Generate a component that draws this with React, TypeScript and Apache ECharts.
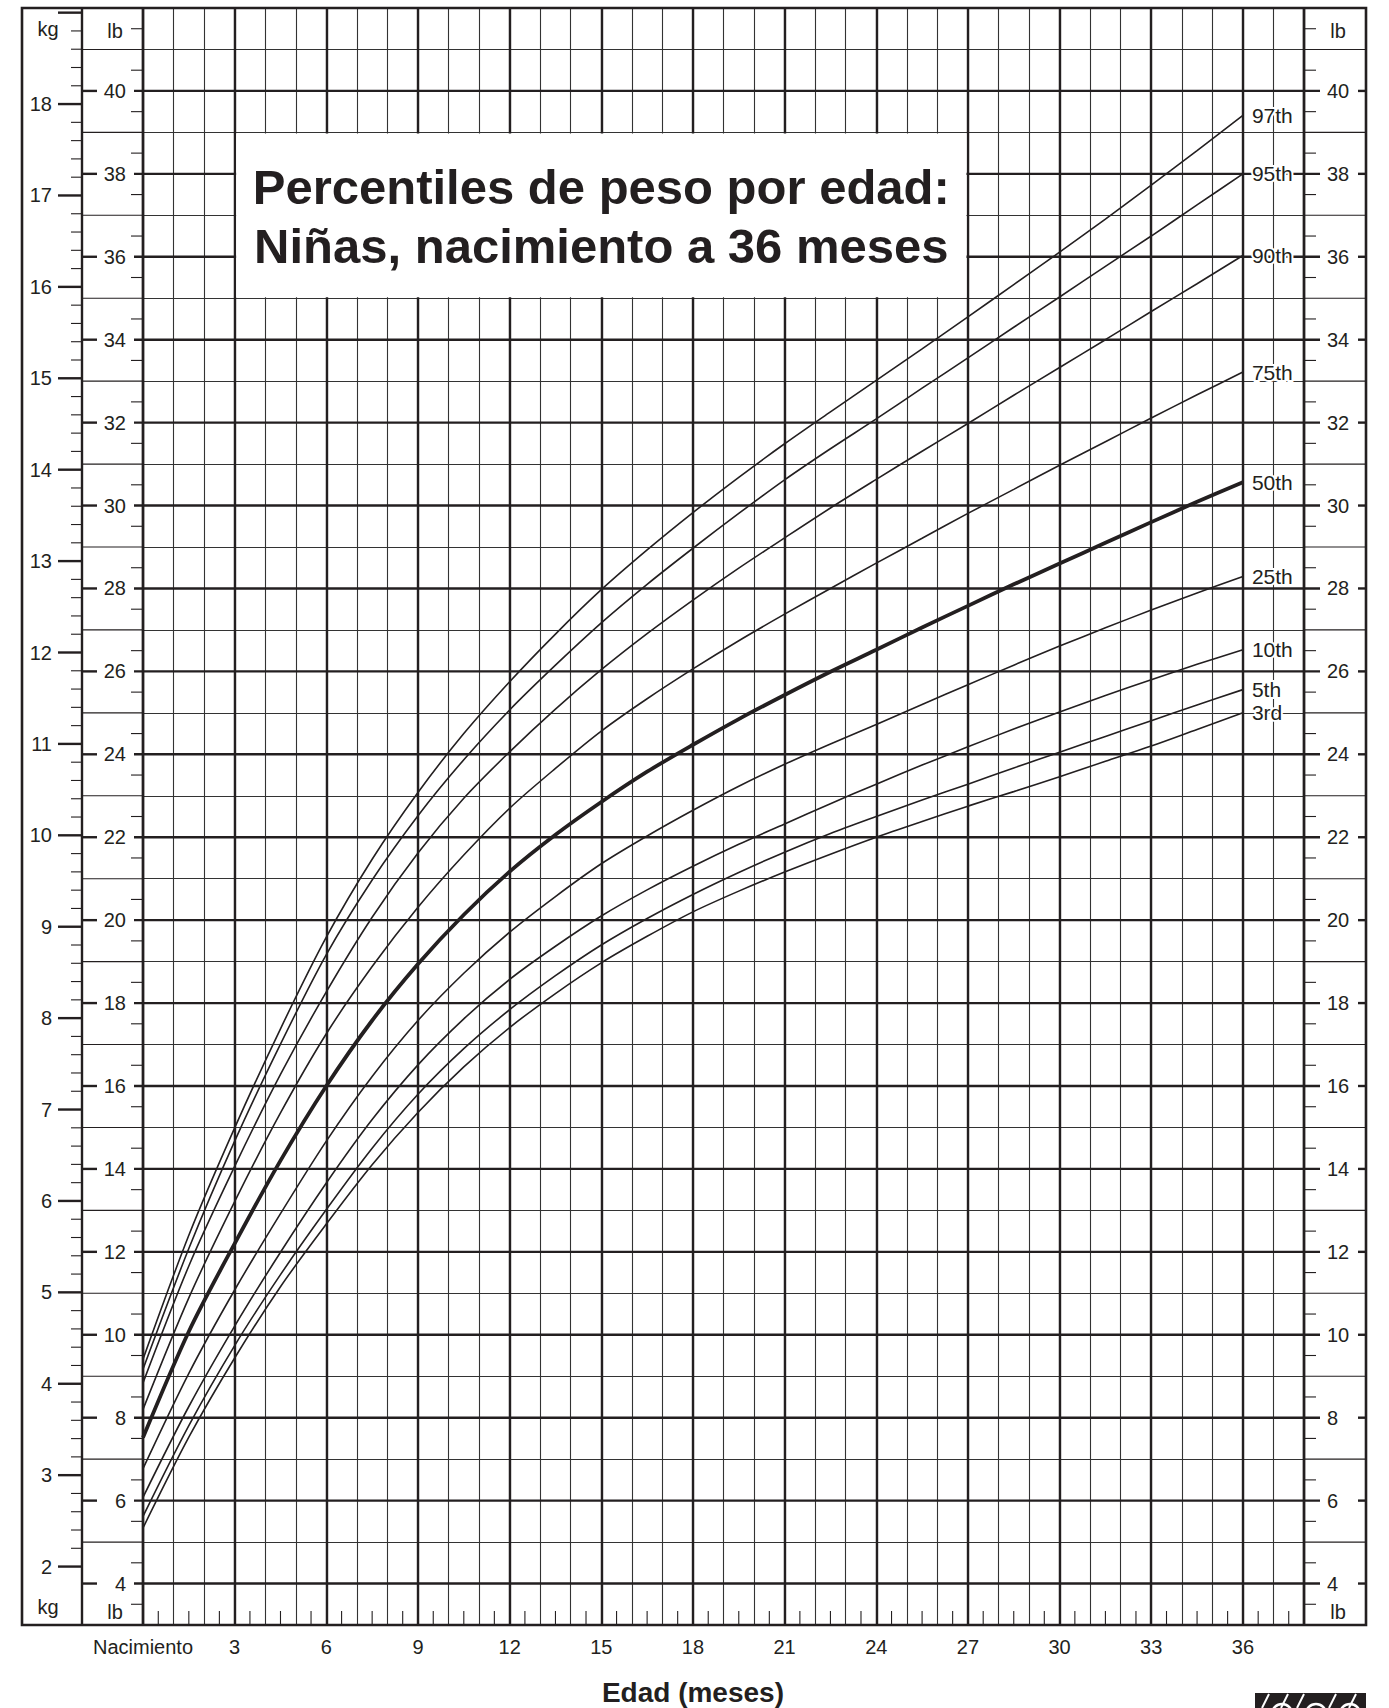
import React, { useEffect, useRef } from "react";
import * as echarts from "echarts";

// ---------- data (weights in pounds; ages in months) ----------
const LB_PER_KG = 2.20462;
const LB_MIN = 3;
const LB_MAX = 42;
const MONTH_MIN = 0;
const MONTH_MAX = 38;

const MONTHS = [0, 1.5, 3, 4.5, 6, 7.5, 9, 10.5, 12, 13.5, 15, 16.5, 18, 19.5, 21, 22.5, 24, 25.5, 27, 28.5, 30, 31.5, 33, 34.5, 36];

const P97 = [9.41, 12.4, 14.99, 17.38, 19.59, 21.47, 23.08, 24.5, 25.75, 26.9, 27.97, 28.93, 29.83, 30.68, 31.49, 32.26, 33.02, 33.78, 34.55, 35.33, 36.11, 36.91, 37.73, 38.56, 39.41];
const P95 = [9.17, 12.08, 14.67, 17.01, 19.17, 20.97, 22.52, 23.87, 25.07, 26.15, 27.17, 28.1, 28.97, 29.81, 30.62, 31.37, 32.09, 32.83, 33.56, 34.3, 35.03, 35.77, 36.5, 37.25, 38.0];
const P90 = [8.84, 11.66, 14.06, 16.28, 18.27, 20.07, 21.62, 22.94, 24.06, 25.09, 26.04, 26.91, 27.72, 28.49, 29.22, 29.94, 30.63, 31.31, 31.98, 32.66, 33.33, 34.0, 34.68, 35.35, 36.03];
const P75 = [8.2, 10.89, 13.21, 15.35, 17.26, 18.88, 20.31, 21.57, 22.7, 23.66, 24.56, 25.34, 26.06, 26.74, 27.38, 28.0, 28.61, 29.21, 29.81, 30.39, 30.97, 31.54, 32.11, 32.67, 33.22];
const P50 = [7.52, 10.08, 12.2, 14.2, 16.0, 17.58, 18.94, 20.13, 21.17, 22.06, 22.85, 23.58, 24.23, 24.85, 25.43, 25.99, 26.52, 27.06, 27.58, 28.1, 28.6, 29.1, 29.6, 30.09, 30.56];
const P25 = [6.77, 9.07, 11.08, 12.92, 14.67, 16.23, 17.58, 18.72, 19.71, 20.57, 21.36, 22.03, 22.65, 23.23, 23.76, 24.25, 24.72, 25.2, 25.68, 26.15, 26.61, 27.05, 27.48, 27.89, 28.29];
const P10 = [6.08, 8.27, 10.21, 11.99, 13.66, 15.19, 16.51, 17.62, 18.57, 19.37, 20.1, 20.73, 21.3, 21.83, 22.32, 22.81, 23.28, 23.74, 24.18, 24.61, 25.02, 25.42, 25.8, 26.17, 26.52];
const P5 = [5.62, 7.81, 9.74, 11.45, 13.02, 14.5, 15.8, 16.9, 17.84, 18.66, 19.4, 20.04, 20.62, 21.15, 21.64, 22.09, 22.5, 22.9, 23.28, 23.67, 24.05, 24.43, 24.81, 25.19, 25.56];
const P3 = [5.34, 7.53, 9.44, 11.16, 12.67, 14.1, 15.36, 16.46, 17.41, 18.23, 18.97, 19.61, 20.2, 20.7, 21.16, 21.59, 22.0, 22.38, 22.75, 23.1, 23.46, 23.83, 24.2, 24.6, 25.0];

const PERCENTILE_NAMES = ["3rd", "5th", "10th", "25th", "50th", "75th", "90th", "95th", "97th"];
const PERCENTILE_VALUES = [P3, P5, P10, P25, P50, P75, P90, P95, P97];

const X_LABEL_MONTHS = [0, 3, 6, 9, 12, 15, 18, 21, 24, 27, 30, 33, 36];
const LB_LABELS = [4, 6, 8, 10, 12, 14, 16, 18, 20, 22, 24, 26, 28, 30, 32, 34, 36, 38, 40];
const KG_LABELS = [2, 3, 4, 5, 6, 7, 8, 9, 10, 11, 12, 13, 14, 15, 16, 17, 18];
const KG_MAJOR_TICKS = [2, 3, 4, 5, 6, 7, 8, 9, 10, 11, 12, 13, 14, 15, 16, 17, 18, 19];

const TITLE_LINES = ["Percentiles de peso por edad:", "Niñas, nacimiento a 36 meses"];
const X_NAME = "Edad (meses)";

// ---------- styling ----------
const FONT = "'Liberation Sans', Arial, Helvetica, sans-serif";
const INK = "#231f20";
const THIN = 1.1;
const THICK = 2.4;

export default function App() {
  const ref = useRef<HTMLDivElement>(null);

  useEffect(() => {
    const chart = echarts.init(ref.current as HTMLDivElement, null, { renderer: "svg" });

    const kgMin = LB_MIN / LB_PER_KG;
    const kgMax = LB_MAX / LB_PER_KG;

    chart.setOption({
      animation: false,
      backgroundColor: "#ffffff",
      grid: { left: 143, top: 8, width: 1161, height: 1617, outerBoundsMode: "none", containLabel: false },
      xAxis: [
        {
          type: "value",
          min: MONTH_MIN,
          max: MONTH_MAX,
          interval: 1,
          position: "bottom",
          axisLine: { show: false },
          axisTick: { show: false },
          splitLine: { show: true, lineStyle: { color: "#333333", width: THIN } },
          axisLabel: {
            show: true,
            margin: 12,
            fontSize: 20,
            fontFamily: FONT,
            color: INK,
            formatter: (v: number) =>
              X_LABEL_MONTHS.indexOf(v) >= 0 ? (v === 0 ? "Nacimiento" : String(v)) : "",
          },
        },
        {
          type: "value",
          min: MONTH_MIN,
          max: MONTH_MAX,
          interval: 3,
          position: "top",
          axisLine: { show: false },
          axisTick: { show: false },
          axisLabel: { show: false },
          splitLine: { show: true, lineStyle: { color: INK, width: THICK } },
        },
      ],
      yAxis: [
        {
          type: "value",
          min: LB_MIN,
          max: LB_MAX,
          interval: 1,
          position: "left",
          axisLine: { show: false },
          axisTick: { show: false },
          splitLine: { show: true, lineStyle: { color: "#333333", width: THIN } },
          axisLabel: {
            margin: 17,
            fontSize: 20,
            fontFamily: FONT,
            color: INK,
            formatter: (v: number) => (LB_LABELS.indexOf(v) >= 0 ? String(v) : ""),
          },
        },
        {
          type: "value",
          min: LB_MIN,
          max: LB_MAX,
          interval: 1,
          position: "right",
          axisLine: { show: false },
          axisTick: { show: false },
          splitLine: { show: false },
          axisLabel: {
            margin: 23,
            fontSize: 20,
            fontFamily: FONT,
            color: INK,
            formatter: (v: number) => (LB_LABELS.indexOf(v) >= 0 ? String(v) : ""),
          },
        },
        {
          type: "value",
          min: kgMin,
          max: kgMax,
          show: false,
          position: "left",
        },
      ],
      series: PERCENTILE_NAMES.map((name, i) => ({
        type: "line",
        name,
        xAxisIndex: 0,
        yAxisIndex: 0,
        data: MONTHS.map((m, j) => [m, PERCENTILE_VALUES[i][j]]),
        smooth: 0.3,
        symbol: "none",
        showSymbol: false,
        silent: true,
        z: 3,
        lineStyle: { color: INK, width: name === "50th" ? 3.8 : 1.6 },
        endLabel: {
          show: true,
          formatter: name,
          distance: 9,
          fontSize: 21,
          fontFamily: FONT,
          color: INK,
          textBorderColor: "#ffffff",
          textBorderWidth: 4,
        },
        emphasis: { disabled: true },
      })),
    });

    const xp = (m: number) => chart.convertToPixel({ xAxisIndex: 0 }, m) as number;
    const yp = (lb: number) => chart.convertToPixel({ yAxisIndex: 0 }, lb) as number;
    const ykg = (kg: number) => chart.convertToPixel({ yAxisIndex: 2 }, kg) as number;

    const gx0 = xp(MONTH_MIN);
    const gx1 = xp(MONTH_MAX);
    const gyTop = yp(LB_MAX);
    const gyBot = yp(LB_MIN);
    const outerLeft = 22;
    const kgRight = 82;
    const outerRight = 1366;

    const els: any[] = [];
    const line = (x1: number, y1: number, x2: number, y2: number, w: number, z = 1) =>
      els.push({
        type: "line",
        silent: true,
        z,
        shape: { x1, y1, x2, y2 },
        style: { stroke: INK, lineWidth: w },
      });
    const text = (
      t: string,
      x: number,
      y: number,
      size: number,
      align: string,
      weight: string = "normal",
      z = 6
    ) =>
      els.push({
        type: "text",
        silent: true,
        z,
        x,
        y,
        style: {
          text: t,
          fill: INK,
          fontSize: size,
          fontFamily: FONT,
          fontWeight: weight,
          align,
          verticalAlign: "middle",
        },
      });

    // thick horizontal lines at even pounds (plus inner ticks in both lb columns)
    for (let lb = 4; lb <= 40; lb += 2) {
      line(gx0 - 9, yp(lb), gx1 + 16, yp(lb), THICK, 1);
      line(kgRight, yp(lb), kgRight + 15, yp(lb), THICK, 1);
      line(outerRight - 8, yp(lb), outerRight, yp(lb), THICK, 1);
    }
    // odd pounds: lines across the lb columns
    for (let lb = 5; lb <= 41; lb += 2) {
      line(kgRight, yp(lb), gx0, yp(lb), THIN, 1);
      line(gx1, yp(lb), outerRight, yp(lb), THIN, 1);
    }
    // half pound ticks
    for (let h = 7; h <= 83; h += 2) {
      const lb = h / 2;
      line(gx0 - 12, yp(lb), gx0, yp(lb), THIN, 1);
      line(gx1, yp(lb), gx1 + 12, yp(lb), THIN, 1);
    }
    // half month ticks at the bottom
    for (let h = 1; h < MONTH_MAX * 2; h += 2) {
      const m = h / 2;
      line(xp(m), gyBot, xp(m), gyBot - 14, THIN, 1);
    }
    // kg ticks and labels
    KG_MAJOR_TICKS.forEach((k) => line(kgRight - 24, ykg(k), kgRight, ykg(k), THICK, 1));
    for (let t = 22; t <= 188; t += 2) {
      if (t % 10 === 0) continue;
      const k = t / 10;
      line(kgRight - 11, ykg(k), kgRight, ykg(k), THIN, 1);
    }
    KG_LABELS.forEach((k) => text(String(k), 52, ykg(k), 20, "right"));

    // column separators and outer frame
    line(kgRight, gyTop, kgRight, gyBot, THICK, 2);
    line(gx0, gyTop, gx0, gyBot, THICK, 2);
    line(gx1, gyTop, gx1, gyBot, THICK, 2);
    els.push({
      type: "rect",
      silent: true,
      z: 2,
      shape: { x: outerLeft, y: gyTop, width: outerRight - outerLeft, height: gyBot - gyTop },
      style: { fill: "none", stroke: INK, lineWidth: 2.6 },
    });

    // unit labels
    text("kg", 48, 29, 20, "center");
    text("kg", 48, 1607, 20, "center");
    text("lb", 115, 31, 20, "center");
    text("lb", 115, 1612, 20, "center");
    text("lb", 1338, 31, 20, "center");
    text("lb", 1338, 1612, 20, "center");

    // title box
    const bx0 = xp(3) + 1.5;
    const bx1 = xp(27) - 1.5;
    const by0 = yp(39) + 1;
    const by1 = yp(35) - 1;
    els.push({
      type: "rect",
      silent: true,
      z: 10,
      shape: { x: bx0, y: by0, width: bx1 - bx0, height: by1 - by0 },
      style: { fill: "#ffffff", stroke: "none" },
    });
    const tcx = (bx0 + bx1) / 2;
    text(TITLE_LINES[0], tcx, 187, 49, "center", "bold", 11);
    text(TITLE_LINES[1], tcx, 246, 49, "center", "bold", 11);

    // x-axis name, centred over birth..36 months
    text(X_NAME, xp(18), 1692, 28, "center", "bold");

    // logo fragment at the bottom right
    els.push({
      type: "rect",
      silent: true,
      z: 6,
      shape: { x: 1255, y: 1693, width: 111, height: 16 },
      style: { fill: INK },
    });
    [1266, 1285, 1301, 1333, 1353].forEach((x) =>
      els.push({
        type: "line",
        silent: true,
        z: 7,
        shape: { x1: x - 4, y1: 1708, x2: x + 3, y2: 1694 },
        style: { stroke: "#ffffff", lineWidth: 2 },
      })
    );
    [1282, 1316, 1350].forEach((cx) =>
      els.push({
        type: "arc",
        silent: true,
        z: 7,
        shape: { cx, cy: 1714, r: 10, startAngle: Math.PI, endAngle: 2 * Math.PI },
        style: { stroke: "#ffffff", lineWidth: 2.5, fill: "none" },
      })
    );

    chart.setOption({ graphic: els });

    return () => {
      chart.dispose();
    };
  }, []);

  return (
    <div
      ref={ref}
      style={{ position: "absolute", left: 0, top: 0, width: 1389, height: 1708, background: "#ffffff" }}
    />
  );
}
